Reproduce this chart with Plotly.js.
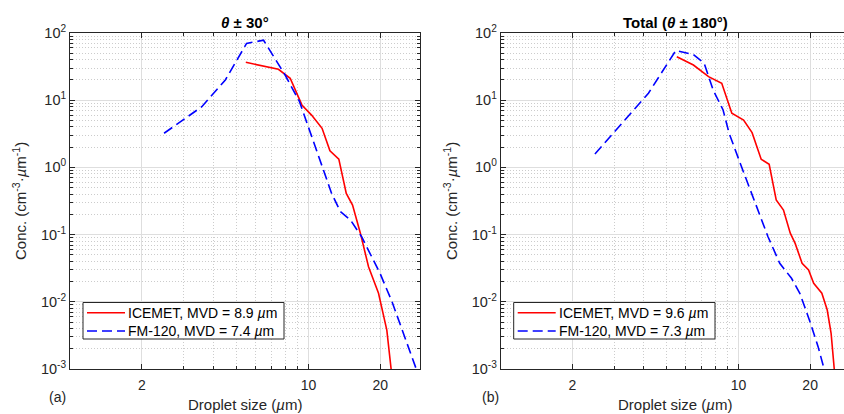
<!DOCTYPE html>
<html>
<head>
<meta charset="utf-8">
<script src="https://cdn.plot.ly/plotly-3.0.1.min.js"></script>
<style>
html,body{margin:0;padding:0;background:#fff;overflow:hidden;}
#chart{width:844px;height:414px;}
</style>
</head>
<body>
<div id="chart"></div>
<script>
// ---- Data ----
// Panel (a): theta +/- 30 deg
var leftIcemetX = [5.46, 7.48, 8.38, 9.38, 10.3, 11.4, 12.3, 13.4, 14.4, 15.3, 16.5, 17.85, 19.66, 21.3, 22.2, 22.5];
var leftIcemetY = [36.6, 28.8, 21.2, 8.5, 6.0, 3.82, 1.77, 1.33, 0.41, 0.275, 0.105, 0.0333, 0.0134, 0.0038, 0.001, 0.0005];
var leftFmX = [2.48, 3.57, 4.48, 5.5, 6.48, 7.98, 9.17, 10.1, 11.56, 12.5, 13.6, 15.0, 16.7, 19.95, 22.4, 25.4, 28.3, 29.5];
var leftFmY = [3.22, 8.0, 20, 70, 78, 23.7, 9.5, 3.6, 0.97, 0.41, 0.22, 0.165, 0.093, 0.0265, 0.010, 0.003, 0.001, 0.0006];
// Panel (b): total theta +/- 180 deg
var rightIcemetX = [5.5, 6.46, 7.48, 8.5, 9.37, 10.5, 11.4, 12.45, 13.45, 14.4, 15.45, 16.5, 17.3, 18.5, 19.7, 20.7, 22.4, 23.6, 24.5, 25.4, 25.7];
var rightIcemetY = [44.4, 33.4, 22.4, 17.8, 6.38, 5.07, 3.29, 1.32, 1.11, 0.327, 0.232, 0.105, 0.074, 0.0374, 0.0297, 0.0188, 0.0134, 0.00755, 0.0034, 0.001, 0.0005];
var rightFmX = [2.49, 4.18, 5.45, 6.44, 7.17, 7.82, 8.61, 9.13, 10.1, 13.3, 14.9, 16.7, 18.1, 19.97, 21.6, 22.9, 23.3];
var rightFmY = [1.58, 12.7, 55, 48, 35.4, 14.2, 7.15, 3.22, 1.22, 0.093, 0.0374, 0.0224, 0.0134, 0.00506, 0.00215, 0.001, 0.0007];

var leftNames = ['ICEMET, MVD = 8.9 <i>µ</i>m', 'FM-120, MVD = 7.4 <i>µ</i>m'];
var rightNames = ['ICEMET, MVD = 9.6 <i>µ</i>m', 'FM-120, MVD = 7.3 <i>µ</i>m'];

// Ticks
var xTickVals = [2, 10, 20];
var xTickText = ['2', '10', '20'];
var xMinorVals = [1, 3, 4, 5, 6, 7, 8, 9, 30];
var yTickVals = [0.001, 0.01, 0.1, 1, 10, 100];
var yTickText = ['10<sup>-3</sup>', '10<sup>-2</sup>', '10<sup>-1</sup>', '10<sup>0</sup>', '10<sup>1</sup>', '10<sup>2</sup>'];
var yMinorVals = [0.002,0.003,0.004,0.005,0.006,0.007,0.008,0.009,
                  0.02,0.03,0.04,0.05,0.06,0.07,0.08,0.09,
                  0.2,0.3,0.4,0.5,0.6,0.7,0.8,0.9,
                  2,3,4,5,6,7,8,9,20,30,40,50,60,70,80,90];

var W = 844, H = 414;
var FONT = 'Liberation Sans, Arial, Helvetica, sans-serif';
var AX = '#262626';
var RED = '#ff0000', BLUE = '#0000ff', DASH = '10px,5px';

function px(x){ return x / W; }
function py(y){ return 1 - y / H; }

var red = {color: RED, width: 1.6};
var blue = {color: BLUE, width: 1.6, dash: DASH};

var traces = [
  {x: leftIcemetX, y: leftIcemetY, name: leftNames[0], mode: 'lines', line: red, xaxis: 'x', yaxis: 'y'},
  {x: leftFmX, y: leftFmY, name: leftNames[1], mode: 'lines', line: blue, xaxis: 'x', yaxis: 'y'},
  {x: rightIcemetX, y: rightIcemetY, name: rightNames[0], mode: 'lines', line: red, xaxis: 'x2', yaxis: 'y2'},
  {x: rightFmX, y: rightFmY, name: rightNames[1], mode: 'lines', line: blue, xaxis: 'x2', yaxis: 'y2'}
];

function xAxis(domain, rng, anchor){
  return {
    type: 'log', domain: domain, range: rng, anchor: anchor,
    tickmode: 'array', tickvals: xTickVals, ticktext: xTickText,
    ticks: 'inside', ticklen: 5, tickcolor: AX, tickwidth: 1,
    showline: true, linecolor: AX, linewidth: 1, mirror: 'ticks',
    showgrid: true, gridcolor: '#dedede', gridwidth: 1,
    zeroline: false, ticklabelstandoff: 3,
    tickfont: {family: FONT, size: 14, color: AX},
    minor: {tickmode: 'array', tickvals: xMinorVals, ticks: 'inside', ticklen: 3, tickcolor: AX,
            showgrid: true, gridcolor: '#cccccc', griddash: '1px,2px', gridwidth: 1},
    fixedrange: true
  };
}
function yAxis(anchor, mirror){
  return {
    type: 'log', domain: [py(369), py(33)], range: [-3, 2], anchor: anchor,
    tickmode: 'array', tickvals: yTickVals, ticktext: yTickText,
    ticks: 'inside', ticklen: 5, tickcolor: AX, tickwidth: 1,
    showline: true, linecolor: AX, linewidth: 1, mirror: mirror,
    showgrid: true, gridcolor: '#dedede', gridwidth: 1,
    zeroline: false,
    tickfont: {family: FONT, size: 14.5, color: AX},
    minor: {tickmode: 'array', tickvals: yMinorVals, ticks: 'inside', ticklen: 3, tickcolor: AX,
            showgrid: true, gridcolor: '#cccccc', griddash: '1px,2px', gridwidth: 1},
    fixedrange: true
  };
}

var ann = function(x, y, text, opts){
  var a = {x: px(x), y: py(y), xref: 'paper', yref: 'paper', text: text, showarrow: false,
           xanchor: 'center', yanchor: 'middle', font: {family: FONT, size: 15, color: AX}};
  for (var k in opts) a[k] = opts[k];
  return a;
};

var annotations = [
  ann(245, 22, '<b><i>θ</i> ± 30°</b>', {font: {family: FONT, size: 15, color: '#000'}}),
  ann(675.7, 22, '<b>Total (<i>θ</i> ± 180°)</b>', {font: {family: FONT, size: 15, color: '#000'}}),
  ann(245, 404, 'Droplet size (<i>µ</i>m)'),
  ann(675.7, 404, 'Droplet size (<i>µ</i>m)'),
  ann(20, 201, 'Conc. (cm<sup>-3</sup>·<i>µ</i>m<sup>-1</sup>)', {textangle: -90}),
  ann(451, 201, 'Conc. (cm<sup>-3</sup>·<i>µ</i>m<sup>-1</sup>)', {textangle: -90}),
  ann(57, 397, '(a)', {font: {family: FONT, size: 14, color: AX}}),
  ann(490, 397, '(b)', {font: {family: FONT, size: 14, color: AX}})
];

// Legend boxes (drawn as shapes + text to match the compact legend layout)
var shapes = [];
function addLegend(x0, x1, names){
  var y0 = 302.5, y1 = 339, r1 = 312.7, r2 = 331;
  shapes.push({type: 'rect', xref: 'paper', yref: 'paper', x0: px(x0), x1: px(x1), y0: py(y1), y1: py(y0),
               line: {color: AX, width: 1}, fillcolor: '#ffffff', layer: 'above'});
  shapes.push({type: 'line', xref: 'paper', yref: 'paper', x0: px(x0 + 4), x1: px(x0 + 42), y0: py(r1), y1: py(r1),
               line: {color: RED, width: 1.6}, layer: 'above'});
  shapes.push({type: 'line', xref: 'paper', yref: 'paper', x0: px(x0 + 4), x1: px(x0 + 42), y0: py(r2), y1: py(r2),
               line: {color: BLUE, width: 1.6, dash: DASH}, layer: 'above'});
  annotations.push(ann(x0 + 43, r1, names[0], {xanchor: 'left', font: {family: FONT, size: 14, color: '#000'}}));
  annotations.push(ann(x0 + 43, r2, names[1], {xanchor: 'left', font: {family: FONT, size: 14, color: '#000'}}));
}
addLegend(83, 284, leftNames);
addLegend(513.7, 715, rightNames);

var layout = {
  width: W, height: H,
  margin: {l: 0, r: 0, t: 0, b: 0, pad: 0},
  paper_bgcolor: '#ffffff', plot_bgcolor: '#ffffff',
  font: {family: FONT, size: 14, color: AX},
  showlegend: false,
  xaxis: xAxis([px(70), px(420)], [0, 1.4675], 'y'),
  yaxis: yAxis('x', 'ticks'),
  xaxis2: xAxis([px(500.7), 1], [0, 1.4434], 'y2'),
  yaxis2: yAxis('x2', false),
  shapes: shapes,
  annotations: annotations
};

Plotly.newPlot('chart', traces, layout, {displayModeBar: false, staticPlot: true});
</script>
</body>
</html>
